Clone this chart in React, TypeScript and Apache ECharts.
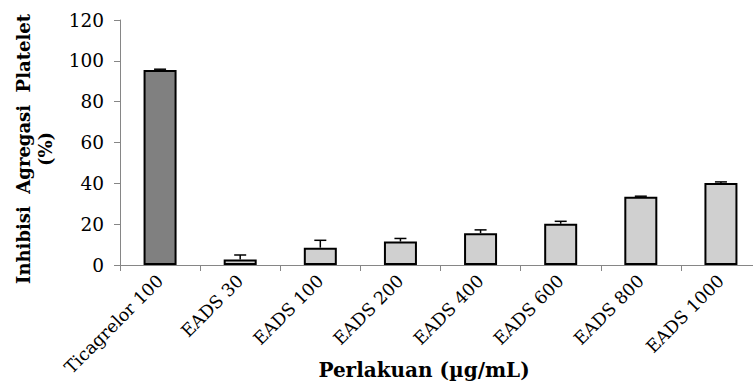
import React, { useEffect, useRef } from "react";
import * as echarts from "echarts";

const categories = ["Ticagrelor 100", "EADS 30", "EADS 100", "EADS 200", "EADS 400", "EADS 600", "EADS 800", "EADS 1000"];
const values = [95.5, 2.7, 8.5, 11.5, 15.6, 20.2, 33.4, 40.2];
const errors = [0.4, 2.2, 3.6, 1.5, 1.6, 1.2, 0.3, 0.5];
const barColors = ["#808080", "#d0d0d0", "#d0d0d0", "#d0d0d0", "#d0d0d0", "#d0d0d0", "#d0d0d0", "#d0d0d0"];
const yTicks = [0, 20, 40, 60, 80, 100, 120];

const FONT = "'DejaVu Serif', serif";

export default function App() {
  const ref = useRef<HTMLDivElement>(null);
  useEffect(() => {
    if (!ref.current) return;
    const chart = echarts.init(ref.current, null, { renderer: "svg" });
    chart.setOption({
      animation: false,
      backgroundColor: "#ffffff",
      grid: { left: 120, width: 641, top: 20, height: 245, containLabel: false, outerBoundsMode: "none" },
      xAxis: {
        type: "category",
        data: categories,
        axisLine: { lineStyle: { color: "#868686", width: 1 } },
        axisTick: { show: true, length: 6, lineStyle: { color: "#868686" } },
        axisLabel: { rotate: 45, fontFamily: FONT, fontSize: 17.5, color: "#000", margin: 13, interval: 0 },
      },
      yAxis: {
        type: "value",
        min: yTicks[0],
        max: yTicks[yTicks.length - 1],
        interval: 20,
        splitLine: { show: false },
        axisLine: { show: true, lineStyle: { color: "#868686", width: 1 } },
        axisTick: { show: true, length: 6, lineStyle: { color: "#868686" } },
        axisLabel: { fontFamily: FONT, fontSize: 18.5, color: "#000", margin: 16 },
      },
      series: [
        {
          type: "bar",
          barWidth: 33,
          data: values.map((v, i) => ({
            value: v,
            itemStyle: { color: barColors[i], borderColor: "#000", borderWidth: 2 },
          })),
          z: 2,
        },
        {
          type: "custom",
          z: 3,
          data: values.map((v, i) => [i, v, v + errors[i]]),
          renderItem: (params: any, api: any) => {
            const i = api.value(0);
            const p0 = api.coord([i, api.value(1)]);
            const p1 = api.coord([i, api.value(2)]);
            const half = 6;
            return {
              type: "group",
              children: [
                { type: "line", shape: { x1: p0[0], y1: p0[1], x2: p1[0], y2: p1[1] }, style: { stroke: "#000", lineWidth: 1.5 } },
                { type: "line", shape: { x1: p1[0] - half, y1: p1[1], x2: p1[0] + half, y2: p1[1] }, style: { stroke: "#000", lineWidth: 1.5 } },
              ],
            };
          },
        },
      ],
      graphic: [
        {
          type: "text",
          x: 424,
          y: 370,
          style: {
            text: "Perlakuan (µg/mL)",
            font: `bold 20px ${FONT}`,
            fill: "#000",
            align: "center",
            verticalAlign: "middle",
          },
        },
        {
          type: "text",
          x: 34,
          y: 149,
          rotation: Math.PI / 2,
          style: {
            text: "Inhibisi  Agregasi  Platelet\n(%)",
            font: `bold 18px ${FONT}`,
            fill: "#000",
            align: "center",
            verticalAlign: "middle",
            lineHeight: 22,
          },
        },
      ],
    });
    return () => chart.dispose();
  }, []);
  return <div ref={ref} style={{ width: 753, height: 388, position: "absolute", left: 0, top: 0 }} />;
}
